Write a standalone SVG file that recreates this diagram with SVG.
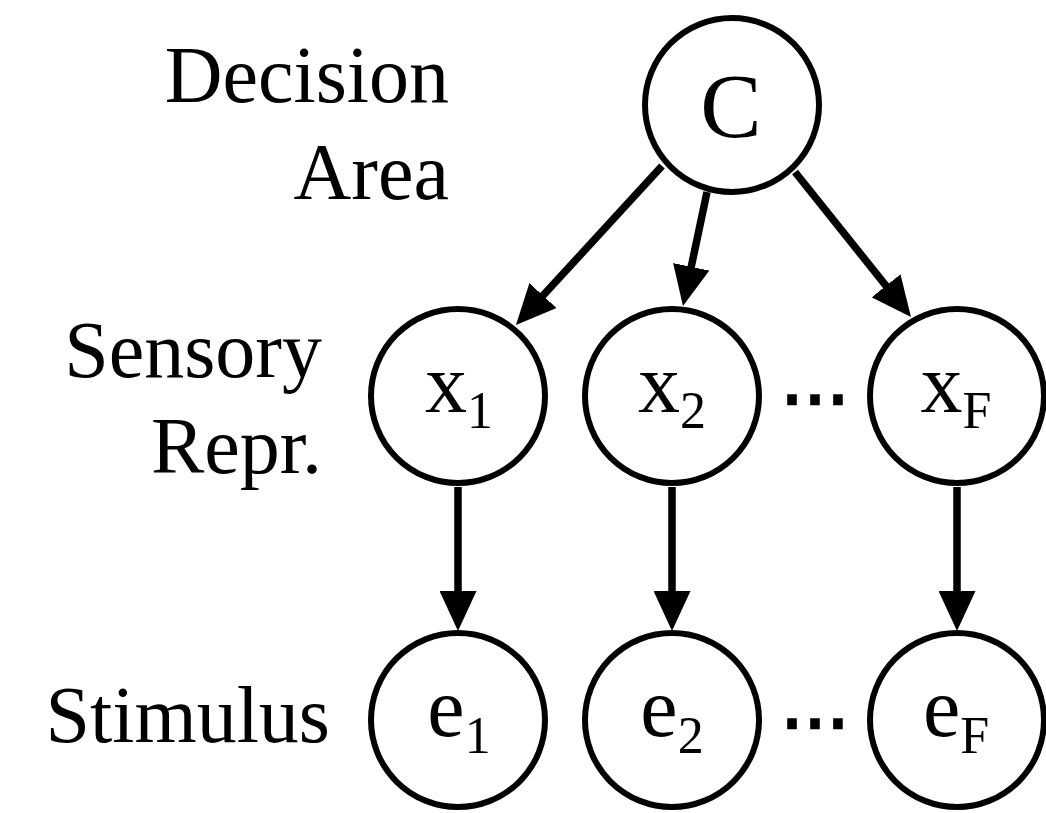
<svg xmlns="http://www.w3.org/2000/svg" width="1046" height="813" viewBox="0 0 1046 813">
  <style>
    .node { fill: #fff; stroke: #000; stroke-width: 6; }
    .lbl { font-family: 'Liberation Serif', 'DejaVu Serif', 'Times New Roman', serif; fill: #000; }
    .side { font-size: 80px; text-anchor: end; }
    .var { font-size: 84px; text-anchor: middle; }
    .sub { font-size: 52px; }
    .dots { font-family: 'DejaVu Sans', sans-serif; font-size: 69px; text-anchor: middle; fill: #000; stroke: #000; stroke-width: 2.5; }
    .edge { stroke: #000; stroke-width: 7.5; fill: none; marker-end: url(#arrow); }
  </style>
  <defs>
    <marker id="arrow" viewBox="0 0 40 37" refX="20" refY="18.5" markerWidth="40" markerHeight="37" markerUnits="userSpaceOnUse" orient="auto">
      <path d="M0,0 L40,18.5 L0,37 z" fill="#000"/>
    </marker>
  </defs>
  <rect width="1046" height="813" fill="#fff"/>

  <g id="row-labels" font-family="Liberation Serif, DejaVu Serif, serif">
    <text class="lbl side" x="449" y="102">Decision</text>
    <text class="lbl side" x="449" y="199">Area</text>
    <text class="lbl side" x="322" y="377">Sensory</text>
    <text class="lbl side" x="322" y="473">Repr.</text>
    <text class="lbl side" x="330" y="742">Stimulus</text>
  </g>

  <g id="connectors">
    <line class="edge" x1="662" y1="166" x2="529.5" y2="310.3"/>
    <line class="edge" x1="707" y1="192" x2="687.1" y2="286.4"/>
    <line class="edge" x1="795" y1="172" x2="898.5" y2="301.4"/>
    <line class="edge" x1="458" y1="487" x2="458" y2="611"/>
    <line class="edge" x1="672" y1="487" x2="672" y2="611"/>
    <line class="edge" x1="957" y1="487" x2="957" y2="611"/>
  </g>

  <g id="node-C">
    <circle class="node" cx="732" cy="105" r="87"/>
    <text class="lbl" x="731" y="137" font-size="92" text-anchor="middle">C</text>
  </g>

  <g id="node-x1">
    <circle class="node" cx="458" cy="396" r="87"/>
    <text class="lbl var" x="459" y="412">x<tspan class="sub" dy="16">1</tspan></text>
  </g>
  <g id="node-x2">
    <circle class="node" cx="672" cy="396" r="87"/>
    <text class="lbl var" x="672" y="412">x<tspan class="sub" dy="16">2</tspan></text>
  </g>
  <g id="node-xF">
    <circle class="node" cx="957" cy="396" r="87"/>
    <text class="lbl var" x="956" y="412">x<tspan class="sub" dy="16">F</tspan></text>
  </g>

  <g id="node-e1">
    <circle class="node" cx="458" cy="720" r="87"/>
    <text class="lbl var" x="459" y="736">e<tspan class="sub" dy="17">1</tspan></text>
  </g>
  <g id="node-e2">
    <circle class="node" cx="672" cy="720" r="87"/>
    <text class="lbl var" x="672" y="736">e<tspan class="sub" dy="17">2</tspan></text>
  </g>
  <g id="node-eF">
    <circle class="node" cx="957" cy="720" r="87"/>
    <text class="lbl var" x="956" y="736">e<tspan class="sub" dy="17">F</tspan></text>
  </g>

  <g id="ellipses">
    <text class="dots" x="815" y="421">⋯</text>
    <text class="dots" x="815" y="745">⋯</text>
  </g>
</svg>
